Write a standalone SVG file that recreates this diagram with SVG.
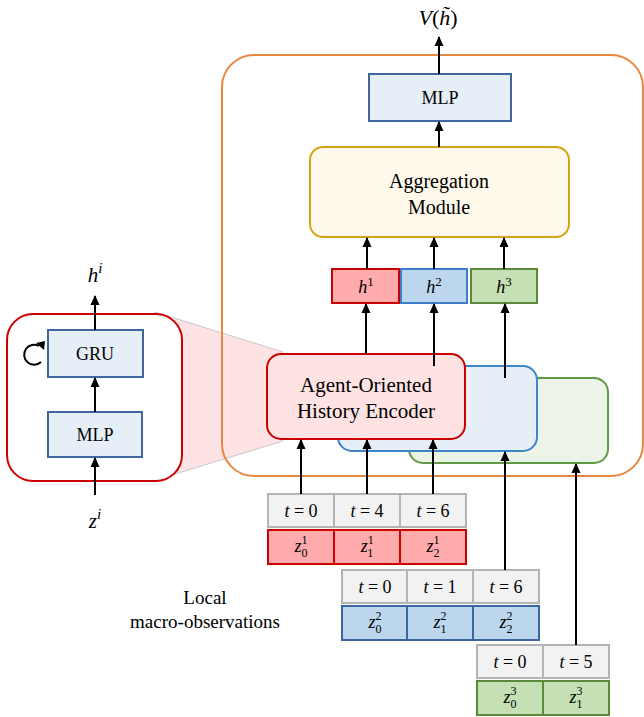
<svg xmlns="http://www.w3.org/2000/svg" width="644" height="717" viewBox="0 0 644 717">
<defs>
<marker id="ah" markerWidth="10" markerHeight="10" refX="9" refY="5" orient="auto" markerUnits="userSpaceOnUse">
<path d="M0,0.5 L10,5 L0,9.5 Z" fill="#000"/>
</marker>
<style>
.t{fill:#000;text-anchor:middle;font-family:"Liberation Serif","Times New Roman",serif}
.i{font-style:italic}
.c{stroke:#000;stroke-width:2;fill:none;marker-end:url(#ah)}
.mlp{fill:#e6eef8;stroke:#41669e;stroke-width:2}
.tc{fill:#f2f2f2;stroke:#b4b4b4;stroke-width:2}
.z1{fill:#ffabab;stroke:#cc0000;stroke-width:2}
.z2{fill:#bcd6ee;stroke:#3c64a0;stroke-width:2}
.z3{fill:#c5e0b4;stroke:#5a8a3a;stroke-width:2}
</style>
</defs>
<rect width="644" height="717" fill="#fff"/>

<polygon points="155,312 283,352 283,441 162,478" fill="#fde3e3" stroke="#c8c8c8" stroke-width="1"/>

<g id="container">
<rect x="222" y="55" width="421" height="421" rx="32" fill="none" stroke="#e8873f" stroke-width="2"/>
</g>

<g id="encoder-detail">
<rect x="7" y="314" width="175" height="167" rx="26" fill="#fff" stroke="#cc0000" stroke-width="2"/>
</g>
<g id="gru">
<rect x="48" y="330" width="95" height="47" class="mlp"/>
<text x="95" y="360" class="t" font-size="18">GRU</text>
<path d="M41,362 A10,10 0 1 1 39,346" fill="none" stroke="#000" stroke-width="2"/>
<polygon points="36,343 45,341 44,350" fill="#000"/>
</g>
<g id="mlp-left">
<rect x="48" y="412" width="94" height="45" class="mlp"/>
<text x="95" y="441" class="t" font-size="18">MLP</text>
</g>
<g id="hi-label"><text x="95" y="282" class="t" font-size="21"><tspan class="i">h</tspan><tspan class="i" font-size="15" dy="-9">i</tspan></text></g>
<g id="zi-label"><text x="95" y="528" class="t" font-size="21"><tspan class="i">z</tspan><tspan class="i" font-size="15" dy="-9">i</tspan></text></g>

<g id="encoder3"><rect x="409" y="378" width="199" height="85" rx="14" fill="#ebf4e6" stroke="#5f9a45" stroke-width="2"/></g>
<g id="encoder2"><rect x="338" y="366" width="199" height="85" rx="14" fill="#e6eef8" stroke="#3d85c6" stroke-width="2"/></g>
<g id="encoder1">
<rect x="267" y="354" width="198" height="85" rx="14" fill="#ffe3e3" stroke="#cc0000" stroke-width="2"/>
<text x="366" y="392" class="t" font-size="21">Agent-Oriented</text>
<text x="366" y="418" class="t" font-size="21">History Encoder</text>
</g>

<g id="h1"><rect x="332" y="269" width="67" height="34" class="z1"/>
<text x="366" y="293" class="t" font-size="18"><tspan class="i">h</tspan><tspan font-size="13" dy="-7">1</tspan></text></g>
<g id="h2"><rect x="401" y="269" width="66" height="34" fill="#bcd6ee" stroke="#3a7dc9" stroke-width="2"/>
<text x="434" y="293" class="t" font-size="18"><tspan class="i">h</tspan><tspan font-size="13" dy="-7">2</tspan></text></g>
<g id="h3"><rect x="471" y="269" width="66" height="34" class="z3"/>
<text x="504" y="293" class="t" font-size="18"><tspan class="i">h</tspan><tspan font-size="13" dy="-7">3</tspan></text></g>

<g id="aggregation">
<rect x="310" y="147" width="259" height="90" rx="13" fill="#fff9ec" stroke="#d6a318" stroke-width="2"/>
<text x="439" y="188" class="t" font-size="20">Aggregation</text>
<text x="439" y="214" class="t" font-size="20">Module</text>
</g>

<g id="mlp-top">
<rect x="369" y="74" width="142" height="47" class="mlp"/>
<text x="440" y="104" class="t" font-size="18">MLP</text>
</g>
<g id="v-label"><text x="438" y="25" class="t" font-size="22"><tspan class="i">V</tspan>(<tspan class="i">h&#771;</tspan>)</text></g>

<g id="obs1">
<rect x="268" y="494" width="66" height="33" class="tc"/><rect x="334" y="494" width="66" height="33" class="tc"/><rect x="400" y="494" width="66" height="33" class="tc"/>
<rect x="268" y="530" width="66" height="34" class="z1"/><rect x="334" y="530" width="66" height="34" class="z1"/><rect x="400" y="530" width="66" height="34" class="z1"/>
<text x="301" y="517" class="t" font-size="18"><tspan class="i">t</tspan> = 0</text>
<text x="367" y="517" class="t" font-size="18"><tspan class="i">t</tspan> = 4</text>
<text x="433" y="517" class="t" font-size="18"><tspan class="i">t</tspan> = 6</text>
<text x="301" y="552" class="t" font-size="18"><tspan class="i">z</tspan><tspan font-size="12" dy="-8">1</tspan><tspan font-size="12" dx="-6" dy="13">0</tspan></text>
<text x="367" y="552" class="t" font-size="18"><tspan class="i">z</tspan><tspan font-size="12" dy="-8">1</tspan><tspan font-size="12" dx="-6" dy="13">1</tspan></text>
<text x="433" y="552" class="t" font-size="18"><tspan class="i">z</tspan><tspan font-size="12" dy="-8">1</tspan><tspan font-size="12" dx="-6" dy="13">2</tspan></text>
</g>
<g id="obs2">
<rect x="342" y="570" width="65" height="33" class="tc"/><rect x="407" y="570" width="66" height="33" class="tc"/><rect x="473" y="570" width="66" height="33" class="tc"/>
<rect x="342" y="606" width="65" height="34" class="z2"/><rect x="407" y="606" width="66" height="34" class="z2"/><rect x="473" y="606" width="66" height="34" class="z2"/>
<text x="375" y="593" class="t" font-size="18"><tspan class="i">t</tspan> = 0</text>
<text x="440" y="593" class="t" font-size="18"><tspan class="i">t</tspan> = 1</text>
<text x="506" y="593" class="t" font-size="18"><tspan class="i">t</tspan> = 6</text>
<text x="375" y="628" class="t" font-size="18"><tspan class="i">z</tspan><tspan font-size="12" dy="-8">2</tspan><tspan font-size="12" dx="-6" dy="13">0</tspan></text>
<text x="440" y="628" class="t" font-size="18"><tspan class="i">z</tspan><tspan font-size="12" dy="-8">2</tspan><tspan font-size="12" dx="-6" dy="13">1</tspan></text>
<text x="506" y="628" class="t" font-size="18"><tspan class="i">z</tspan><tspan font-size="12" dy="-8">2</tspan><tspan font-size="12" dx="-6" dy="13">2</tspan></text>
</g>
<g id="obs3">
<rect x="477" y="645" width="66" height="33" class="tc"/><rect x="543" y="645" width="66" height="33" class="tc"/>
<rect x="477" y="681" width="66" height="34" class="z3"/><rect x="543" y="681" width="66" height="34" class="z3"/>
<text x="510" y="668" class="t" font-size="18"><tspan class="i">t</tspan> = 0</text>
<text x="576" y="668" class="t" font-size="18"><tspan class="i">t</tspan> = 5</text>
<text x="510" y="703" class="t" font-size="18"><tspan class="i">z</tspan><tspan font-size="12" dy="-8">3</tspan><tspan font-size="12" dx="-6" dy="13">0</tspan></text>
<text x="576" y="703" class="t" font-size="18"><tspan class="i">z</tspan><tspan font-size="12" dy="-8">3</tspan><tspan font-size="12" dx="-6" dy="13">1</tspan></text>
</g>

<g id="local-label">
<text x="205" y="604" class="t" font-size="19">Local</text>
<text x="205" y="628" class="t" font-size="19">macro-observations</text>
</g>

<g id="connectors">
<line x1="95" y1="330" x2="95" y2="296" class="c"/>
<line x1="95" y1="412" x2="95" y2="378" class="c"/>
<line x1="95" y1="495" x2="95" y2="458" class="c"/>
<line x1="301" y1="494" x2="301" y2="440" class="c"/>
<line x1="367" y1="494" x2="367" y2="440" class="c"/>
<line x1="433" y1="494" x2="433" y2="440" class="c"/>
<line x1="505" y1="570" x2="505" y2="452" class="c"/>
<line x1="576" y1="645" x2="576" y2="464" class="c"/>
<line x1="366" y1="354" x2="366" y2="304" class="c"/>
<line x1="434" y1="366" x2="434" y2="304" class="c"/>
<line x1="505" y1="378" x2="505" y2="304" class="c"/>
<line x1="367" y1="269" x2="367" y2="238" class="c"/>
<line x1="434" y1="269" x2="434" y2="238" class="c"/>
<line x1="504" y1="269" x2="504" y2="238" class="c"/>
<line x1="439" y1="147" x2="439" y2="122" class="c"/>
<line x1="439" y1="74" x2="439" y2="37" class="c"/>
</g>
</svg>
